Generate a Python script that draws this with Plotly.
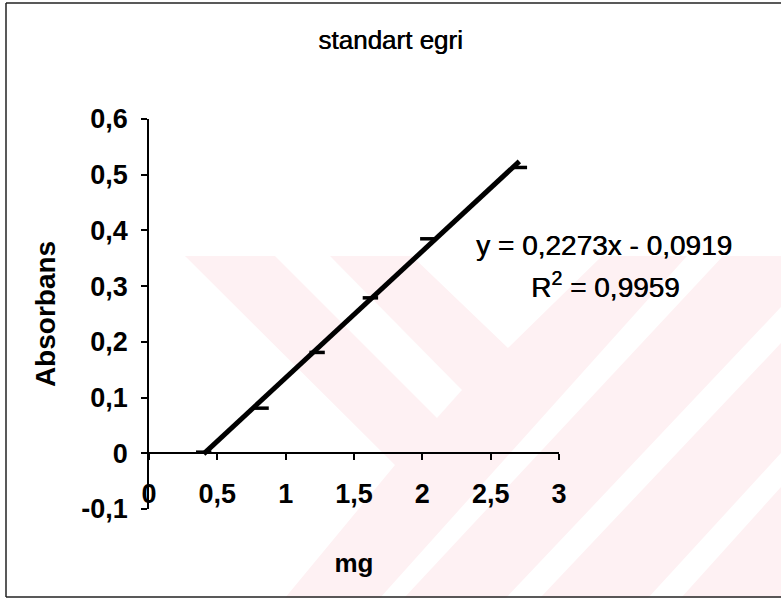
import plotly.graph_objects as go

# Calibration data: mass (mg) vs absorbance
mg = [0.40, 0.82, 1.23, 1.62, 2.04, 2.71]
absorbans = [0.002, 0.081, 0.181, 0.279, 0.385, 0.513]

# Linear trendline coefficients and fit quality
slope = 0.2273
intercept = -0.0919
r_squared = 0.9959

# Axis ticks
x_tickvals = [0, 0.5, 1, 1.5, 2, 2.5, 3]
x_ticktext = ["0", "0,5", "1", "1,5", "2", "2,5", "3"]
y_tickvals = [-0.1, 0, 0.1, 0.2, 0.3, 0.4, 0.5, 0.6]
y_ticktext = ["-0,1", "0", "0,1", "0,2", "0,3", "0,4", "0,5", "0,6"]

W, H = 781, 600
L, R, T, B = 149, 222, 119, 91
PW, PH = W - L - R, H - T - B


def px(x):
    return (x - L) / PW


def py(y):
    return (H - B - y) / PH


def poly(points):
    d = "M " + " L ".join(f"{px(a):.4f},{py(b):.4f}" for a, b in points) + " Z"
    return d


def fmt(v, n):
    return f"{abs(v):.{n}f}".replace(".", ",")


fig = go.Figure()

# trendline across the measured range
x_fit = [min(mg), max(mg)]
y_fit = [slope * v + intercept for v in x_fit]
fig.add_trace(go.Scatter(
    x=x_fit, y=y_fit, mode="lines",
    line=dict(color="black", width=5),
    hoverinfo="skip", showlegend=False,
))

fig.add_trace(go.Scatter(
    x=mg, y=absorbans, mode="markers",
    marker=dict(symbol="line-ew", size=11, line=dict(color="black", width=3.5)),
    showlegend=False,
))

pink = "#fef1f3"
shapes = [
    dict(type="path", path=poly([(185, 256), (412, 256), (508, 348), (602, 256),
                                 (781, 256), (781, 598), (285, 598), (395, 465)]),
         fillcolor=pink, line=dict(width=0)),
    dict(type="path", path=poly([(275, 256), (330, 256), (462, 390), (437, 418)]),
         fillcolor="white", line=dict(width=0)),
    dict(type="path", path=poly([(687, 256), (723, 256), (404, 598), (380, 598)]),
         fillcolor="white", line=dict(width=0)),
    dict(type="path", path=poly([(781, 307), (781, 343), (540, 598), (506, 598)]),
         fillcolor="white", line=dict(width=0)),
    dict(type="path", path=poly([(781, 453), (781, 487), (681, 598), (648, 598)]),
         fillcolor="white", line=dict(width=0)),
]
for s in shapes:
    s.update(xref="paper", yref="paper", layer="below")

# outer frame of the chart
frame = [((6, 3), (781, 3)), ((6, 3), (6, 597)), ((6, 597), (781, 597))]
for (x0, y0), (x1, y1) in frame:
    shapes.append(dict(type="line", xref="paper", yref="paper",
                       x0=px(x0), y0=py(y0), x1=px(x1), y1=py(y1),
                       line=dict(color="#222", width=1.5), layer="above"))

font_family = "Liberation Sans, Arial, sans-serif"
heavy = "0.5px 0px 0px black"

fig.update_layout(
    width=W, height=H, autosize=False,
    margin=dict(l=L, r=R, t=T, b=B, pad=0),
    paper_bgcolor="white", plot_bgcolor="rgba(0,0,0,0)",
    shapes=shapes,
    font=dict(family=font_family, color="black"),
    title=dict(text="standart egri", x=0.5, xref="container", xanchor="center",
               y=1 - 40 / H, yref="container", yanchor="middle",
               font=dict(size=26, color="black", shadow=heavy)),
    xaxis=dict(
        range=[0, 3], tickvals=x_tickvals, ticktext=x_ticktext,
        showgrid=False, zeroline=False,
        showline=True, linecolor="black", linewidth=1.5,
        ticks="outside", ticklen=6, tickwidth=1.5, tickcolor="black",
        tickfont=dict(size=27, family=font_family, weight="bold"),
        ticklabelstandoff=11,
        anchor="free", position=1 / 7,
        title=dict(text="mg", standoff=44,
                   font=dict(size=26, family=font_family, weight="bold")),
    ),
    yaxis=dict(
        range=[-0.1, 0.6], tickvals=y_tickvals, ticktext=y_ticktext,
        showgrid=False, zeroline=False,
        showline=True, linecolor="black", linewidth=1.5,
        ticks="outside", ticklen=6, tickwidth=1.5, tickcolor="black",
        tickfont=dict(size=27, family=font_family, weight="bold"),
        ticklabelstandoff=8,
        title=dict(text="Absorbans", standoff=18,
                   font=dict(size=28, family=font_family, weight="bold")),
    ),
)

sign = "-" if intercept < 0 else "+"
eq_text = f"y = {fmt(slope, 4)}x {sign} {fmt(intercept, 4)}"
r2_text = f"R<sup>2</sup> = {fmt(r_squared, 4)}"
fig.add_annotation(text=eq_text, xref="paper", yref="paper",
                   x=px(604), y=py(245), xanchor="center", yanchor="middle",
                   showarrow=False, font=dict(size=28, family=font_family, shadow=heavy))
fig.add_annotation(text=r2_text, xref="paper", yref="paper",
                   x=px(605), y=py(285), xanchor="center", yanchor="middle",
                   showarrow=False, font=dict(size=28, family=font_family, shadow=heavy))

fig.write_html("out.html")
